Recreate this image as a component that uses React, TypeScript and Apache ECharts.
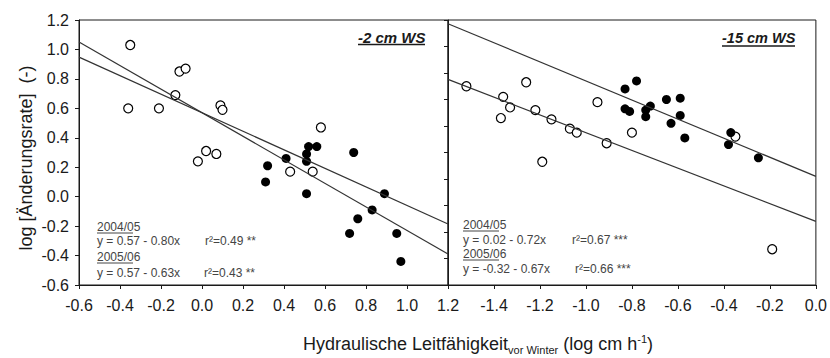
import React, { useEffect, useRef } from "react";
import * as echarts from "echarts";

// Left panel (-2 cm WS)
const leftFilledX = [0.31, 0.32, 0.41, 0.52, 0.51, 0.51, 0.56, 0.51, 0.74, 0.89, 0.83, 0.76, 0.72, 0.95, 0.97];
const leftFilledY = [0.10, 0.21, 0.26, 0.34, 0.29, 0.24, 0.34, 0.02, 0.30, 0.02, -0.09, -0.15, -0.25, -0.25, -0.44];
const leftOpenX = [-0.35, -0.36, -0.21, -0.13, -0.11, -0.08, 0.09, 0.10, -0.02, 0.02, 0.07, 0.43, 0.54, 0.58];
const leftOpenY = [1.03, 0.60, 0.60, 0.69, 0.85, 0.87, 0.62, 0.59, 0.24, 0.31, 0.29, 0.17, 0.17, 0.47];

// Right panel (-15 cm WS)
const rightFilledX = [-0.83, -0.78, -0.83, -0.81, -0.74, -0.72, -0.74, -0.65, -0.63, -0.59, -0.59, -0.57, -0.37, -0.38, -0.25];
const rightFilledY = [0.68, 0.74, 0.53, 0.51, 0.52, 0.55, 0.47, 0.60, 0.42, 0.61, 0.48, 0.31, 0.35, 0.26, 0.16];
const rightOpenX = [-1.52, -1.36, -1.37, -1.33, -1.26, -1.22, -1.19, -1.15, -1.07, -1.04, -0.95, -0.91, -0.80, -0.35, -0.19];
const rightOpenY = [0.70, 0.62, 0.46, 0.54, 0.73, 0.52, 0.13, 0.45, 0.38, 0.35, 0.58, 0.27, 0.35, 0.32, -0.53];

// Regressions: [2004/05, 2005/06]
const leftIntercepts = [0.57, 0.57];
const leftSlopes = [-0.80, -0.63];
const rightIntercepts = [0.02, -0.32];
const rightSlopes = [-0.72, -0.67];

const years = ["2004/05", "2005/06"];
const leftEquations = ["y = 0.57 - 0.80x", "y = 0.57 - 0.63x"];
const leftR2 = ["r²=0.49 **", "r²=0.43 **"];
const rightEquations = ["y = 0.02 - 0.72x", "y = -0.32 - 0.67x"];
const rightR2 = ["r²=0.67 ***", "r²=0.66 ***"];

const leftXRange = [-0.6, 1.2];
const rightXRange = [-1.6, 0.0];
const leftYRange = [-0.6, 1.2];
const rightYRange = [-0.8, 1.2];

const FONT = "'Liberation Sans', Arial, Helvetica, sans-serif";
const INK = "#1a1a1a";
const NOTE = "#444";

const zip = (xs: number[], ys: number[]) => xs.map((x, i) => [x, ys[i]]);
const regLine = (a: number, b: number, r: number[]) => [
  [r[0], a + b * r[0]],
  [r[1], a + b * r[1]],
];

export default function App() {
  const ref = useRef<HTMLDivElement>(null);
  useEffect(() => {
    if (!ref.current) return;
    const chart = echarts.init(ref.current, null, { renderer: "svg" });

    const axisCommon = {
      axisLine: { show: true, onZero: false, lineStyle: { color: INK, width: 1 } },
      axisTick: { show: true, inside: false, length: 4, lineStyle: { color: INK, width: 1 } },
      splitLine: { show: false },
    };
    const labelStyle = {
      color: INK,
      fontFamily: FONT,
      fontSize: 16,
      formatter: (v: number) => v.toFixed(1),
    };

    const filled = { color: "#000", opacity: 1 };
    const hollow = { color: "#fff", borderColor: "#000", borderWidth: 1.2, opacity: 1 };
    const lineStyle = { color: "#333", width: 1.2 };

    const noteTexts: any[] = [];
    const addBlock = (x: number, ys: number[], rx: number[], eqs: string[], r2: string[]) => {
      for (let i = 0; i < 2; i++) {
        noteTexts.push({
          type: "text",
          x,
          y: ys[i * 2],
          style: { text: years[i], font: `12px ${FONT}`, fill: NOTE, textVerticalAlign: "middle" },
        });
        noteTexts.push({
          type: "line",
          shape: { x1: x, y1: ys[i * 2] + 6, x2: x + 36, y2: ys[i * 2] + 6 },
          style: { stroke: NOTE, lineWidth: 1 },
        });
        noteTexts.push({
          type: "text",
          x,
          y: ys[i * 2 + 1],
          style: { text: eqs[i], font: `12px ${FONT}`, fill: NOTE, textVerticalAlign: "middle" },
        });
        noteTexts.push({
          type: "text",
          x: rx[i],
          y: ys[i * 2 + 1],
          style: { text: r2[i], font: `12px ${FONT}`, fill: NOTE, textVerticalAlign: "middle" },
        });
      }
    };
    addBlock(97, [227, 241, 257, 273], [205, 204], leftEquations, leftR2);
    addBlock(463, [225, 240, 254, 269], [572, 575], rightEquations, rightR2);

    chart.setOption({
      animation: false,
      grid: [
        { left: 79, top: 20, width: 369, height: 265, show: true, borderColor: INK, borderWidth: 1, backgroundColor: "transparent" },
        { left: 448, top: 20, width: 370, height: 265, show: true, borderColor: INK, borderWidth: 1, backgroundColor: "transparent" },
      ],
      xAxis: [
        {
          type: "value", gridIndex: 0, min: leftXRange[0], max: leftXRange[1], interval: 0.2,
          ...axisCommon,
          axisLabel: { ...labelStyle, margin: 12 },
        },
        {
          type: "value", gridIndex: 1, min: rightXRange[0], max: rightXRange[1], interval: 0.2,
          ...axisCommon,
          axisLabel: { ...labelStyle, margin: 12, showMinLabel: false },
        },
      ],
      yAxis: [
        {
          type: "value", gridIndex: 0, min: leftYRange[0], max: leftYRange[1], interval: 0.2,
          ...axisCommon,
          axisLabel: { ...labelStyle, margin: 10 },
        },
        {
          type: "value", gridIndex: 1, min: rightYRange[0], max: rightYRange[1], interval: 0.2,
          ...axisCommon,
          axisLabel: { show: false },
        },
      ],
      series: [
        {
          type: "line", xAxisIndex: 0, yAxisIndex: 0, data: regLine(leftIntercepts[0], leftSlopes[0], leftXRange),
          symbol: "none", lineStyle, silent: true,
        },
        {
          type: "line", xAxisIndex: 0, yAxisIndex: 0, data: regLine(leftIntercepts[1], leftSlopes[1], leftXRange),
          symbol: "none", lineStyle, silent: true,
        },
        {
          type: "line", xAxisIndex: 1, yAxisIndex: 1, data: regLine(rightIntercepts[0], rightSlopes[0], rightXRange),
          symbol: "none", lineStyle, silent: true,
        },
        {
          type: "line", xAxisIndex: 1, yAxisIndex: 1, data: regLine(rightIntercepts[1], rightSlopes[1], rightXRange),
          symbol: "none", lineStyle, silent: true,
        },
        {
          name: "2005/06", type: "scatter", xAxisIndex: 0, yAxisIndex: 0, data: zip(leftOpenX, leftOpenY),
          symbol: "circle", symbolSize: 9, itemStyle: hollow,
        },
        {
          name: "2004/05", type: "scatter", xAxisIndex: 0, yAxisIndex: 0, data: zip(leftFilledX, leftFilledY),
          symbol: "circle", symbolSize: 9, itemStyle: filled,
        },
        {
          name: "2005/06", type: "scatter", xAxisIndex: 1, yAxisIndex: 1, data: zip(rightOpenX, rightOpenY),
          symbol: "circle", symbolSize: 9, itemStyle: hollow,
        },
        {
          name: "2004/05", type: "scatter", xAxisIndex: 1, yAxisIndex: 1, data: zip(rightFilledX, rightFilledY),
          symbol: "circle", symbolSize: 9, itemStyle: filled,
        },
      ],
      graphic: [
        {
          type: "text",
          x: 26,
          y: 158,
          rotation: Math.PI / 2,
          style: {
            text: "log [Änderungsrate]  (-)",
            font: `18px ${FONT}`,
            fill: INK,
            textAlign: "center",
            textVerticalAlign: "middle",
          },
        },
        {
          type: "text",
          x: 303,
          y: 344,
          style: {
            text: "Hydraulische Leitfähigkeit{sub|vor Winter} (log cm h{sup|-1})",
            font: `18px ${FONT}`,
            fill: INK,
            textVerticalAlign: "middle",
            lineHeight: 22,
            rich: {
              sub: { fontSize: 11, fontFamily: FONT, fill: INK, lineHeight: 8, verticalAlign: "bottom" },
              sup: { fontSize: 11, fontFamily: FONT, fill: INK, lineHeight: 10, verticalAlign: "top" },
            },
          },
        },
        {
          type: "text",
          x: 358,
          y: 37,
          style: { text: "-2 cm WS", font: `italic bold 15px ${FONT}`, fill: INK, textVerticalAlign: "middle" },
        },
        {
          type: "line",
          shape: { x1: 358, y1: 44.5, x2: 425, y2: 44.5 },
          style: { stroke: INK, lineWidth: 1.5 },
        },
        {
          type: "text",
          x: 722,
          y: 38,
          style: { text: "-15 cm WS", font: `italic bold 14.5px ${FONT}`, fill: INK, textVerticalAlign: "middle" },
        },
        {
          type: "line",
          shape: { x1: 722, y1: 46, x2: 795, y2: 46 },
          style: { stroke: INK, lineWidth: 1.5 },
        },
        ...noteTexts,
      ],
    });

    return () => chart.dispose();
  }, []);

  return (
    <div
      ref={ref}
      style={{ position: "fixed", left: 0, top: 0, width: 830, height: 358, background: "#fff" }}
    />
  );
}
